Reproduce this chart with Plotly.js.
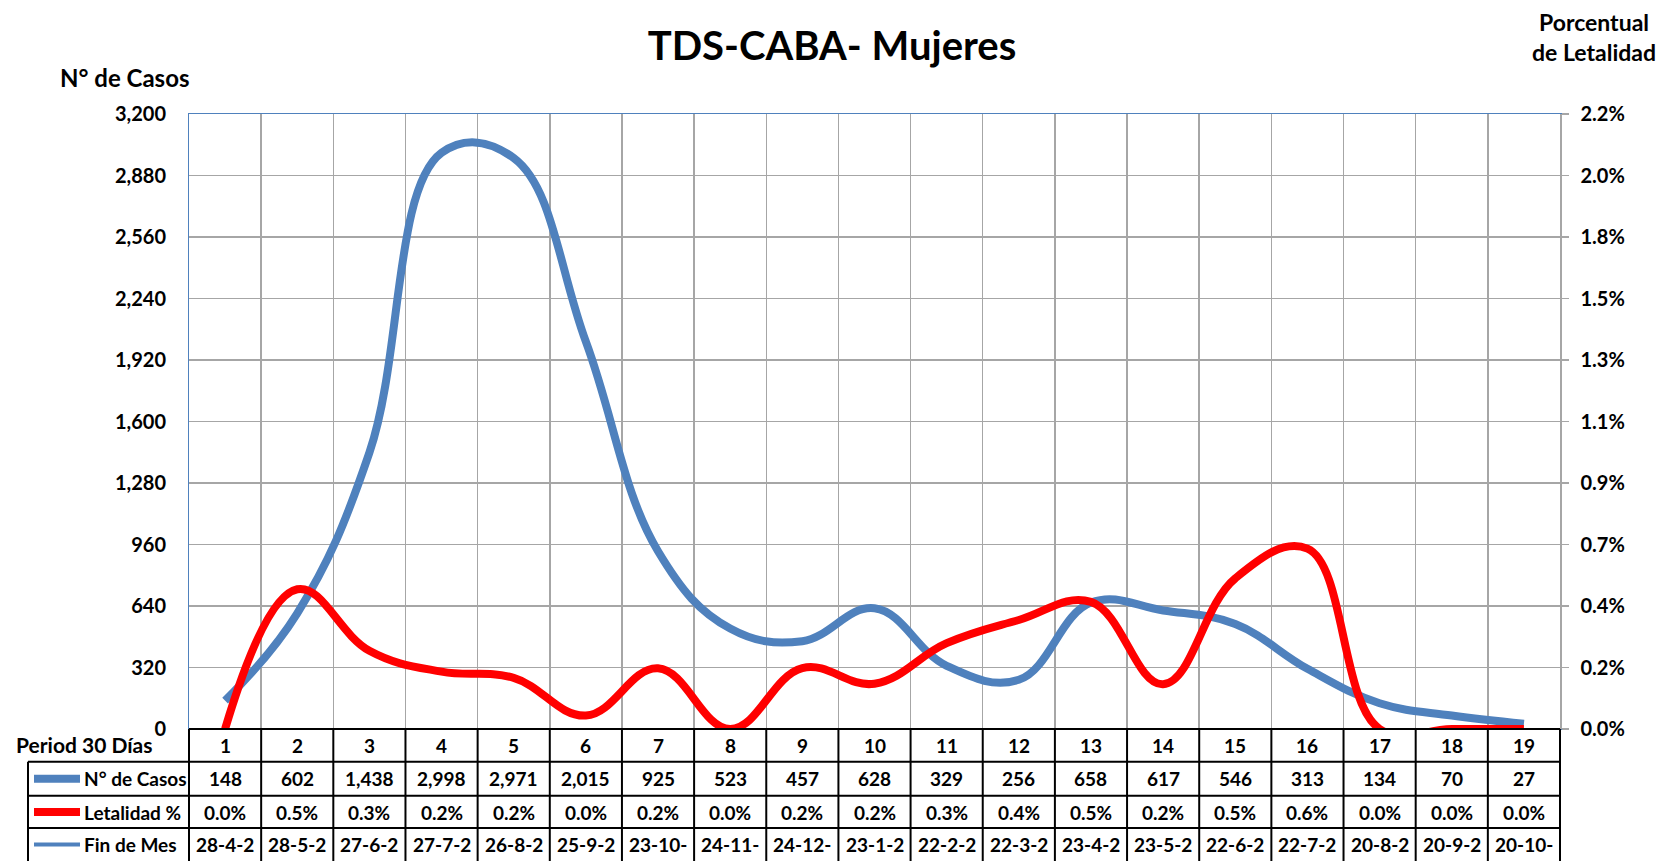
<!DOCTYPE html>
<html>
<head>
<meta charset="utf-8">
<script src="https://cdn.plot.ly/plotly-3.0.1.min.js"></script>
<style>
  html, body { margin: 0; padding: 0; background: #ffffff; }
  #chart { width: 1664px; height: 861px; }
</style>
</head>
<body>
<div id="chart"></div>
<script>
// ---- Data ----
const periods = [1, 2, 3, 4, 5, 6, 7, 8, 9, 10, 11, 12, 13, 14, 15, 16, 17, 18, 19];
const casos = [148, 602, 1438, 2998, 2971, 2015, 925, 523, 457, 628, 329, 256, 658, 617, 546, 313, 134, 70, 27];
const letalidad = [0, 0.50, 0.28, 0.205, 0.183, 0.048, 0.217, 0, 0.218, 0.162, 0.307, 0.39, 0.455, 0.16, 0.539, 0.645, 0, 0, 0];
const finDeMes = ["28-4-2", "28-5-2", "27-6-2", "27-7-2", "26-8-2", "25-9-2", "23-10-", "24-11-", "24-12-", "23-1-2",
                  "22-2-2", "22-3-2", "23-4-2", "23-5-2", "22-6-2", "22-7-2", "20-8-2", "20-9-2", "20-10-"];
const rowLabels = ["N° de Casos", "Letalidad %", "Fin de Mes"];

// ---- Styling ----
const FONT = "Lato, 'Open Sans', sans-serif";
const BLUE = "#4F81BD";
const RED = "#FF0000";
const GRID = "#A6A6A6";

const W = 1664, H = 861;
const M = {l: 189, r: 104, t: 114, b: 132};
const PW = W - M.l - M.r, PH = H - M.t - M.b;
const py = (pix) => (H - M.b - pix) / PH;   // pixel y -> paper y
const px = (pix) => (pix - M.l) / PW;       // pixel x -> paper x

const fmtInt = (n) => String(n).replace(/\B(?=(\d{3})+(?!\d))/g, ",");

const traces = [
  {
    x: periods, y: casos, type: "scatter", mode: "lines", name: "N° de Casos",
    line: {color: BLUE, width: 8, shape: "spline", smoothing: 1.15},
    yaxis: "y", hoverinfo: "skip"
  },
  {
    x: periods, y: letalidad, type: "scatter", mode: "lines", name: "Letalidad %",
    line: {color: RED, width: 8, shape: "spline", smoothing: 1.15},
    yaxis: "y2", hoverinfo: "skip"
  }
];

// table geometry (pixel rows)
const rowEdges = [729, 761.7, 795.7, 828, 861];
const rowCenters = [745.3, 778.7, 812, 844.5];
const labelLeft = 28;

const shapes = [];
const annotations = [];
const n = periods.length;

// vertical table lines
for (let k = 0; k <= n; k++) {
  shapes.push({type: "line", xref: "paper", yref: "paper", x0: k / n, x1: k / n,
               y0: 0, y1: py(H + 2), line: {color: "#000", width: 2}});
}
// left border of label column
shapes.push({type: "line", xref: "paper", yref: "paper", x0: px(labelLeft), x1: px(labelLeft),
             y0: py(rowEdges[1]), y1: py(H + 2), line: {color: "#000", width: 2}});
// horizontal lines
shapes.push({type: "line", xref: "paper", yref: "paper", x0: 0, x1: 1, y0: 0, y1: 0,
             line: {color: "#000", width: 2}});
for (let r = 1; r < 4; r++) {
  shapes.push({type: "line", xref: "paper", yref: "paper", x0: px(labelLeft), x1: 1,
               y0: py(rowEdges[r]), y1: py(rowEdges[r]), line: {color: "#000", width: 2}});
}
// legend keys in the table
const keyStyles = [{color: BLUE, width: 8}, {color: RED, width: 8}, {color: BLUE, width: 4}];
for (let r = 0; r < 3; r++) {
  shapes.push({type: "line", xref: "paper", yref: "paper", x0: px(34), x1: px(80),
               y0: py(rowCenters[r + 1]), y1: py(rowCenters[r + 1]), line: keyStyles[r]});
  annotations.push({xref: "paper", yref: "paper", x: px(82), y: py(rowCenters[r + 1]),
                    xanchor: "left", yanchor: "middle", showarrow: false, text: rowLabels[r],
                    font: {family: FONT, size: 19, color: "#000", weight: 700}});
}

const cellFont = {family: FONT, size: 19, color: "#000", weight: 700};
for (let i = 0; i < n; i++) {
  const cells = [String(periods[i]), fmtInt(casos[i]), letalidad[i].toFixed(1) + "%", finDeMes[i]];
  for (let r = 0; r < 4; r++) {
    annotations.push({xref: "x", yref: "paper", x: periods[i], y: py(rowCenters[r]),
                      xanchor: "center", yanchor: "middle", showarrow: false,
                      text: cells[r], font: cellFont});
  }
}
annotations.push({xref: "paper", yref: "paper", x: px(154), y: py(744), xanchor: "right", yanchor: "middle",
                  showarrow: false, text: "Period 30 Días", font: {family: FONT, size: 21, color: "#000", weight: 700}});
annotations.push({xref: "paper", yref: "paper", x: px(125), y: py(77), xanchor: "center", yanchor: "middle",
                  showarrow: false, text: "N° de Casos", font: {family: FONT, size: 24, color: "#000", weight: 700}});
annotations.push({xref: "paper", yref: "paper", x: px(1594), y: py(37), xanchor: "center", yanchor: "middle",
                  showarrow: false, align: "center", text: "Porcentual<br>de Letalidad",
                  font: {family: FONT, size: 23, color: "#000", weight: 700}});

const gridTicks = [];
for (let k = 1; k < n; k++) gridTicks.push(periods[k - 1] + 0.5);

const layout = {
  width: W, height: H,
  margin: M,
  paper_bgcolor: "#fff", plot_bgcolor: "#fff",
  showlegend: false,
  title: {text: "TDS-CABA- Mujeres", x: 0.5, xref: "container", xanchor: "center",
          y: 1 - 46 / H, yref: "container", yanchor: "middle",
          font: {family: FONT, size: 40, color: "#000", weight: 700}},
  xaxis: {range: [0.5, 19.5], tickvals: gridTicks, showticklabels: false, ticks: "",
          showgrid: true, gridcolor: GRID, gridwidth: 1.5, zeroline: false,
          showline: true, mirror: true, linecolor: BLUE, linewidth: 1, fixedrange: true},
  yaxis: {range: [0, 3200], dtick: 320, tick0: 0, tickformat: ",d",
          showgrid: true, gridcolor: GRID, gridwidth: 1.5, zeroline: false,
          showline: true, linecolor: BLUE, linewidth: 1, ticks: "", ticklabelstandoff: 18,
          tickfont: {family: FONT, size: 20, color: "#000", weight: 700}, fixedrange: true},
  yaxis2: {range: [0, 2.2], dtick: 0.22, tick0: 0, tickformat: ".1f", ticksuffix: "%",
           overlaying: "y", side: "right", showgrid: false, zeroline: false,
           showline: true, linecolor: GRID, linewidth: 1.5, ticks: "outside", ticklen: 7,
           tickcolor: GRID, tickwidth: 1.5, ticklabelstandoff: 8,
           tickfont: {family: FONT, size: 20, color: "#000", weight: 700}, fixedrange: true},
  shapes: shapes,
  annotations: annotations
};

Plotly.newPlot("chart", traces, layout, {displayModeBar: false, staticPlot: true});
</script>
</body>
</html>
